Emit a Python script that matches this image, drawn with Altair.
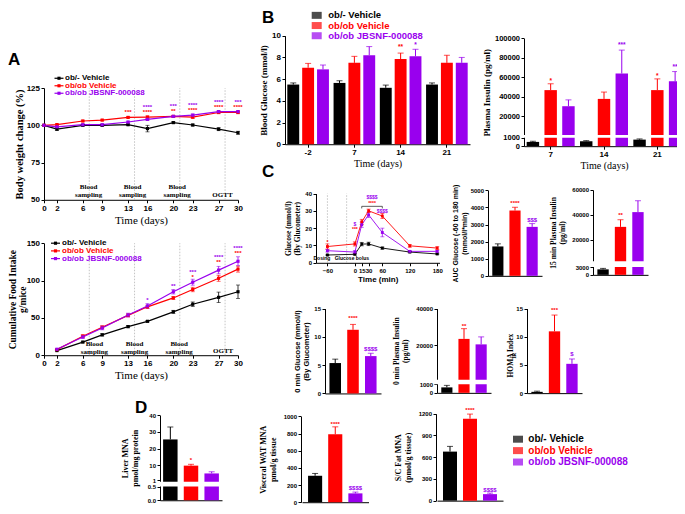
import altair as alt
import pandas as pd

W, H = 669, 498
GROUPS = ["ob/- Vehicle", "ob/ob Vehicle", "ob/ob JBSNF-000088"]
COLORS = ["#000000", "#ff0000", "#9900ee"]
SANS = "Liberation Sans"
SERIF = "Liberation Serif"

# ---------------- data ----------------
# A: body weight change (%)
bw_days = [0, 2, 6, 9, 13, 16, 20, 23, 27, 30]
bw_black = [100, 97.4, 100, 100, 100.4, 97.8, 101.8, 100.2, 97.4, 95]
bw_red = [100, 100.5, 102.9, 103.5, 105.3, 105.5, 106, 105.5, 108.6, 108.6]
bw_purple = [100, 99, 100.4, 100.4, 102.2, 104, 106, 106.8, 109.2, 109.2]
bw_err_black = [0, 0.8, 0.5, 0.5, 0.6, 2.2, 0.6, 0.6, 1.0, 1.0]
bw_err_red = [0, 0.5, 0.5, 0.5, 0.5, 0.8, 0.5, 0.8, 0.8, 0.8]
bw_err_purple = [0, 0.5, 0.5, 0.5, 0.5, 0.8, 0.5, 0.8, 0.8, 0.8]
bw_sig_x = [13, 16, 16, 20, 20, 23, 23, 27, 27, 30, 30]
bw_sig_group = [1, 2, 1, 2, 1, 2, 1, 2, 1, 2, 1]
bw_sig_text = ["***", "****", "****", "***", "**", "****", "****", "****", "****", "***", "****"]
bw_sig_y = [108.7, 112.2, 108.9, 112.7, 109.4, 113.6, 110.3, 115.5, 112.3, 115.5, 112.3]

# A: cumulative food intake (g/mice)
fi_days = [2, 6, 9, 13, 16, 20, 23, 27, 30]
fi_black = [6.2, 17.6, 27.3, 38.3, 45.4, 58.1, 68.3, 77.5, 85]
fi_red = [7.5, 25.5, 37.4, 53.3, 64.8, 76.7, 88, 103, 115.3]
fi_purple = [8, 24.5, 36.5, 53.8, 66, 85, 97.8, 114, 125.8]
fi_err_black = [0.5, 1, 1.5, 1.5, 1, 2, 3, 7, 9]
fi_err_red = [0.5, 2, 2, 2, 2, 2, 3, 4, 4]
fi_err_purple = [0.5, 2, 2.5, 2.5, 3, 3, 4, 5, 6]
fi_sig_x = [16, 20, 23, 23, 27, 27, 30, 30]
fi_sig_group = [2, 2, 2, 1, 2, 1, 2, 1]
fi_sig_text = ["*", "**", "***", "*", "****", "**", "****", "***"]
fi_sig_y = [73.7, 92.5, 111.8, 105.0, 131.5, 124.8, 144.2, 137.5]

event_days = [7, 14, 21, 28]
ann_text = ["Blood\nsampling", "Blood\nsampling", "Blood\nsampling", "OGTT"]
ann_x_top = [6.9, 13.7, 20.6, 27.6]
ann_y_top = [61.0, 61.0, 61.0, 55.8]
ann_x_bottom = [7.8, 14, 20.9, 27.7]
ann_y_bottom = [20.5, 20.5, 20.5, 11.3]

# B: blood glucose (mmol/l)
bg_days = ["-2", "7", "14", "21"]
bg_black = [5.5, 5.65, 5.2, 5.5]
bg_red = [7.05, 7.5, 7.85, 7.5]
bg_purple = [6.9, 8.2, 8.1, 7.5]
bg_hi_black = [5.65, 5.85, 5.45, 5.65]
bg_hi_red = [7.45, 8.1, 8.4, 8.2]
bg_hi_purple = [7.3, 9.0, 8.75, 8.0]
bg_sig_x = ["14", "14"]
bg_sig_group = [1, 2]
bg_sig_text = ["**", "*"]
bg_sig_y = [8.95, 9.15]

# B: plasma insulin (pg/ml)
pi_days = ["7", "14", "21"]
pi_black = [500, 577, 770]
pi_red = [47000, 38000, 47000]
pi_purple = [30500, 64000, 56000]
pi_hi_black = [577, 650, 850]
pi_hi_red = [53500, 45000, 58500]
pi_hi_purple = [37000, 88000, 66000]
pi_sig_x = ["7", "14", "21", "21"]
pi_sig_group = [1, 2, 1, 2]
pi_sig_text = ["*", "***", "*", "**"]
pi_sig_y = [56800, 93300, 61800, 70500]

# C: OGTT glucose (mmol/l)
ogtt_t = [-60, 0, 15, 30, 60, 120, 180]
ogtt_black = [4.5, 4.9, 10.8, 10.9, 8.5, 6.2, 5.1]
ogtt_red = [9.4, 10.9, 23.6, 30, 27, 9.8, 8.5]
ogtt_purple = [7, 6.2, 22, 27.7, 17.5, 6.6, 6.6]
ogtt_err_black = [0.4, 0.4, 1, 1, 0.6, 0.4, 0.4]
ogtt_err_red = [1.5, 1.2, 1.5, 1, 1.5, 0.8, 0.8]
ogtt_err_purple = [0.8, 0.8, 1.5, 1.5, 2.5, 0.5, 0.5]
ogtt_sig_x = [-60, 0, 0, 37.5, 37.5, 60]
ogtt_sig_group = [1, 1, 2, 1, 2, 2]
ogtt_sig_text = ["*", "***", "$", "****", "$$$$", "$$$$"]
ogtt_sig_y = [11.8, 19.4, 22.6, 34.3, 38.0, 29.8]
ogtt_events = [-60, -18]
ogtt_bracket = [15, 60]

# C: bar summaries (black, red, purple)
auc_vals = [1717, 3817, 2862]
auc_hi = [1870, 4007, 3053]
auc_sig = ["", "****", "$$$"]
auc_sig_y = [0, 4236, 3244]

ins15_vals = [2100, 30500, 42300]
ins15_hi = [2475, 36200, 51400]
ins15_sig = ["", "**", ""]
ins15_sig_y = [0, 39600, 0]

glu0_vals = [5.37, 11.25, 6.6]
glu0_hi = [6.06, 12.2, 7.1]
glu0_sig = ["", "****", "$$$$"]
glu0_sig_y = [0, 13.3, 7.8]

ins0_vals = [640, 23400, 20400]
ins0_hi = [880, 29000, 24500]
ins0_sig = ["", "**", ""]
ins0_sig_y = [0, 30200, 0]

homa_vals = [0.23, 10.96, 5.2]
homa_hi = [0.35, 13.85, 6.06]
homa_sig = ["", "***", "$"]
homa_sig_y = [0, 14.7, 6.9]

# D: MNA
liver_vals = [25.5, 9.7, 5.0]
liver_hi = [33, 10.5, 6.0]
liver_sig = ["", "*", ""]
liver_sig_y = [0, 13, 0]

vwat_vals = [308, 791, 103]
vwat_hi = [335, 878, 118]
vwat_sig = ["", "****", "$$$$"]
vwat_sig_y = [0, 913, 160]

sc_vals = [677, 1132, 90]
sc_hi = [749, 1195, 104]
sc_sig = ["", "****", "$$$$"]
sc_sig_y = [0, 1250, 149]


# ---------------- helpers ----------------
def cx(x):
    return x - 8


def cy(y):
    return (y - 5) * 0.98


COLOR = alt.Color("group:N", scale=alt.Scale(domain=GROUPS, range=COLORS), legend=None)


def left_axis(xpage, values, title, lsize, tsize, tfont=SERIF, tpad=3, label_expr=None, tlh=None):
    kw = dict(orient="left", offset=-cx(xpage), values=values, title=title, format="d",
              labelFontSize=lsize, titleFontSize=tsize, titleFont=tfont,
              titleFontWeight="bold", titlePadding=tpad, zindex=0)
    if label_expr:
        kw["labelExpr"] = label_expr
    if tlh:
        kw["titleLineHeight"] = tlh
    return alt.Axis(**kw)


def bottom_axis(ypage, title=None, values=None, lsize=8, tsize=10, tfont=SERIF,
                tweight="normal", labels=True, ticks=True, tpad=2):
    kw = dict(orient="bottom", offset=cy(ypage) - H, title=title, labelFontSize=lsize,
              titleFontSize=tsize, titleFont=tfont, titleFontWeight=tweight, labelAngle=0,
              labels=labels, ticks=ticks, titlePadding=tpad, zindex=0)
    if values is not None:
        kw["values"] = values
    return alt.Axis(**kw)


def long_df(xs, series, errs):
    rows = []
    for g, vals, es in zip(GROUPS, series, errs):
        for x, v, e in zip(xs, vals, es):
            rows.append({"x": x, "group": g, "value": v, "lo": v - e, "hi": v + e})
    return pd.DataFrame(rows)


def sig_df(xs, grp, txt, ys):
    return pd.DataFrame({"x": xs, "group": [GROUPS[i] for i in grp], "text": txt, "y": ys})


def line_panel(xs, series, errs, sx, sy, ax, ay, sig, ann=None, events=None, ev_dom=None,
               lw=1.2, psize=10, sig_size=6):
    df = long_df(xs, series, errs)
    X = lambda f: alt.X(f"{f}:Q", scale=sx, axis=ax)
    Y = lambda f: alt.Y(f"{f}:Q", scale=sy, axis=ay)
    layers = []
    if events is not None:
        ev = pd.DataFrame({"x": events, "y0": [ev_dom[0]] * len(events), "y1": [ev_dom[1]] * len(events)})
        layers.append(alt.Chart(ev).mark_rule(color="#b5b5b5", strokeDash=[1.5, 1.5], strokeWidth=0.8)
                      .encode(x=X("x"), y=Y("y0"), y2=alt.Y2("y1")))
    layers += [
        alt.Chart(df).mark_line(strokeWidth=lw).encode(x=X("x"), y=Y("value"), color=COLOR),
        alt.Chart(df).mark_rule(strokeWidth=0.8).encode(x=X("x"), y=Y("lo"), y2=alt.Y2("hi"), color=COLOR),
        alt.Chart(df).mark_tick(orient="horizontal", size=4, thickness=0.8).encode(x=X("x"), y=Y("hi"), color=COLOR),
        alt.Chart(df).mark_tick(orient="horizontal", size=4, thickness=0.8).encode(x=X("x"), y=Y("lo"), color=COLOR),
        alt.Chart(df).mark_point(filled=True, size=psize, opacity=1, shape="square").encode(x=X("x"), y=Y("value"), color=COLOR),
        alt.Chart(sig).mark_text(font=SANS, fontWeight="bold", fontSize=sig_size, baseline="middle")
        .encode(x=X("x"), y=Y("y"), text="text:N", color=COLOR),
    ]
    if ann is not None:
        layers.append(alt.Chart(ann).mark_text(font=SERIF, fontWeight="bold", fontSize=7, baseline="top",
                                               lineBreak="\n", lineHeight=8, color="black")
                      .encode(x=X("x"), y=Y("y"), text="text:N"))
    return alt.layer(*layers)


def grouped_bars(cats, series, his, sig, xr, yscale, ax, ay, pin=0.1, pout=0.05, opad=0.2,
                 breaks=None, bx=None, sig_size=6.5, cap=6):
    rows = []
    for g, vals, hs in zip(GROUPS, series, his):
        for c, v, h in zip(cats, vals, hs):
            rows.append({"x": c, "group": g, "value": v, "hi": h})
    df = pd.DataFrame(rows)
    sx = alt.Scale(domain=cats, range=xr, paddingInner=pin, paddingOuter=pout)
    X = lambda: alt.X("x:N", sort=cats, scale=sx, axis=ax)
    XO = lambda: alt.XOffset("group:N", sort=GROUPS, scale=alt.Scale(domain=GROUPS, paddingInner=opad))
    Y = lambda f: alt.Y(f"{f}:Q", scale=yscale, axis=ay)
    layers = [
        alt.Chart(df).mark_rule(strokeWidth=1).encode(x=X(), xOffset=XO(), y=Y("value"), y2=alt.Y2("hi"), color=COLOR),
        alt.Chart(df).mark_tick(orient="horizontal", size=cap, thickness=1).encode(x=X(), xOffset=XO(), y=Y("hi"), color=COLOR),
        alt.Chart(df).mark_bar().encode(x=X(), xOffset=XO(), y=Y("value"), color=COLOR),
    ]
    if breaks is not None:
        bdf = pd.DataFrame({"lo": [breaks[0]], "hi": [breaks[1]]})
        layers.append(alt.Chart(bdf).mark_rect(color="white").encode(
            x=alt.value(cx(bx[0])), x2=alt.value(cx(bx[1])), y=Y("lo"), y2=alt.Y2("hi")))
    layers.append(alt.Chart(sig).mark_text(font=SANS, fontWeight="bold", fontSize=sig_size, baseline="middle")
                  .encode(x=X(), xOffset=XO(), y=Y("y"), text="text:N", color=COLOR))
    return alt.layer(*layers)


def simple_bars(vals, his, sig_txt, sig_y, xr, yscale, ay, xaxis_y, pin=0.35, pout=0.25,
                breaks=None, bx=None, sig_size=6, cap=6):
    df = pd.DataFrame({"group": GROUPS, "value": vals, "hi": his})
    sg = pd.DataFrame({"group": GROUPS, "text": sig_txt, "y": sig_y})
    sg = sg[sg["text"] != ""]
    sx = alt.Scale(domain=GROUPS, range=xr, paddingInner=pin, paddingOuter=pout)
    ax = bottom_axis(xaxis_y, title=None, labels=False, ticks=False)
    X = lambda: alt.X("group:N", sort=GROUPS, scale=sx, axis=ax)
    Y = lambda f: alt.Y(f"{f}:Q", scale=yscale, axis=ay)
    layers = [
        alt.Chart(df).mark_rule(strokeWidth=1).encode(x=X(), y=Y("value"), y2=alt.Y2("hi"), color=COLOR),
        alt.Chart(df).mark_tick(orient="horizontal", size=cap, thickness=1).encode(x=X(), y=Y("hi"), color=COLOR),
        alt.Chart(df).mark_bar().encode(x=X(), y=Y("value"), color=COLOR),
    ]
    if breaks is not None:
        bdf = pd.DataFrame({"lo": [breaks[0]], "hi": [breaks[1]]})
        layers.append(alt.Chart(bdf).mark_rect(color="white").encode(
            x=alt.value(cx(bx[0])), x2=alt.value(cx(bx[1])), y=Y("lo"), y2=alt.Y2("hi")))
    layers.append(alt.Chart(sg).mark_text(font=SANS, fontWeight="bold", fontSize=sig_size, baseline="middle")
                  .encode(x=X(), y=Y("y"), text="text:N", color=COLOR))
    return alt.layer(*layers)


def legend(kind, x_sym, x_text, y_first, y_last, size):
    df = pd.DataFrame({"group": GROUPS})
    Y = alt.Y("group:N", sort=GROUPS,
              scale=alt.Scale(type="point", domain=GROUPS, range=[cy(y_first), cy(y_last)], padding=0), axis=None)
    layers = []
    if kind == "line":
        layers.append(alt.Chart(df).mark_rule(strokeWidth=1.2).encode(
            x=alt.value(cx(x_sym - 4.5)), x2=alt.value(cx(x_sym + 4.5)), y=Y, color=COLOR))
        layers.append(alt.Chart(df).mark_point(filled=True, size=10, opacity=1, shape="square").encode(
            x=alt.value(cx(x_sym)), y=Y, color=COLOR))
    else:
        layers.append(alt.Chart(df).mark_tick(orient="horizontal", size=10, thickness=7).encode(
            x=alt.value(cx(x_sym)), y=Y, color=COLOR))
    layers.append(alt.Chart(df).mark_text(align="left", baseline="middle", font=SANS, fontWeight="bold",
                                          fontSize=size).encode(x=alt.value(cx(x_text)), y=Y, text="group:N", color=COLOR))
    return alt.layer(*layers)


def free_text(texts, xs, ys, size, font=SANS, weight="bold", angle=0, align="left", baseline="top"):
    df = pd.DataFrame({"t": texts, "px": [cx(v) for v in xs], "py": [cy(v) for v in ys]})
    return alt.Chart(df).mark_text(font=font, fontWeight=weight, fontSize=size, angle=angle,
                                   align=align, baseline=baseline, color="black").encode(
        x=alt.X("px:Q", scale=None), y=alt.Y("py:Q", scale=None), text="t:N")


children = []

# ---- Panel A top ----
sxA = alt.Scale(domain=[0, 30], range=[cx(44), cx(238)], nice=False, zero=False)
syA1 = alt.Scale(domain=[50, 125], range=[cy(200.7), cy(86.7)], nice=False, zero=False)
axA1 = bottom_axis(200.7, title="Time (days)", values=bw_days, lsize=8, tsize=11)
ayA1 = left_axis(44, [50, 75, 100, 125], "Body weight change (%)", 8, 10.5, tpad=2)
annA1 = pd.DataFrame({"x": ann_x_top, "y": ann_y_top, "text": ann_text})
children.append(line_panel(bw_days, [bw_black, bw_red, bw_purple],
                           [bw_err_black, bw_err_red, bw_err_purple], sxA, syA1, axA1, ayA1,
                           sig_df(bw_sig_x, bw_sig_group, bw_sig_text, bw_sig_y), ann=annA1,
                           events=event_days, ev_dom=[50, 125]))
children.append(legend("line", 59, 65, 76.7, 92, 8))

# ---- Panel A bottom ----
syA2 = alt.Scale(domain=[0, 150], range=[cy(359.3), cy(245)], nice=False, zero=False)
axA2 = bottom_axis(359.3, title="Time (days)", values=bw_days, lsize=8, tsize=11)
ayA2 = left_axis(44, [0, 50, 100, 150], ["Cumulative Food Intake", "g/mice"], 8, 9.5, tpad=-1.5, tlh=10)
annA2 = pd.DataFrame({"x": ann_x_bottom, "y": ann_y_bottom, "text": ann_text})
children.append(line_panel(fi_days, [fi_black, fi_red, fi_purple],
                           [fi_err_black, fi_err_red, fi_err_purple], sxA, syA2, axA2, ayA2,
                           sig_df(fi_sig_x, fi_sig_group, fi_sig_text, fi_sig_y), ann=annA2,
                           events=event_days, ev_dom=[0, 150]))
children.append(legend("line", 55.5, 62, 245, 260.7, 8))

# ---- Panel B left ----
syB1 = alt.Scale(domain=[0, 10], range=[cy(144), cy(33.3)], nice=False)
children.append(grouped_bars(bg_days, [bg_black, bg_red, bg_purple], [bg_hi_black, bg_hi_red, bg_hi_purple],
                             sig_df(bg_sig_x, bg_sig_group, bg_sig_text, bg_sig_y),
                             [cx(285), cx(470)], syB1,
                             bottom_axis(144, title="Time (days)", lsize=8, tsize=10),
                             left_axis(285, [0, 2, 4, 6, 8, 10], "Blood Glucose (mmol/l)", 8, 9)))
children.append(legend("square", 316.7, 328.3, 12.5, 33.3, 9.5))

# ---- Panel B right ----
syB2 = alt.Scale(domain=[0, 1000, 1001, 100000], range=[cy(146), cy(137.3), cy(134.6), cy(36)], nice=False)
children.append(grouped_bars(pi_days, [pi_black, pi_red, pi_purple], [pi_hi_black, pi_hi_red, pi_hi_purple],
                             sig_df(pi_sig_x, pi_sig_group, pi_sig_text, pi_sig_y),
                             [cx(524), cx(684)], syB2,
                             bottom_axis(146, title="Time (days)", lsize=8, tsize=10),
                             left_axis(524, [0, 1000, 20000, 40000, 60000, 80000, 100000],
                                       "Plasma Insulin (pg/ml)", 7.5, 9),
                             breaks=[1000, 1001], bx=[522, 684], opad=0.3))

# ---- Panel C: OGTT ----
sxC = alt.Scale(domain=[-85, 185], range=[cx(316), cx(439.5)], nice=False, zero=False)
syC = alt.Scale(domain=[0, 40], range=[cy(265), cy(194.3)], nice=False, zero=False)
axC = bottom_axis(265, title="Time (min)", values=ogtt_t, lsize=6, tsize=8, tfont=SANS, tweight="bold")
ayC = left_axis(316, [0, 10, 20, 30, 40], ["Glucose (mmol/l)", "(By Glucometer)"], 6, 7.5)
ogtt_layer = line_panel(ogtt_t, [ogtt_black, ogtt_red, ogtt_purple],
                        [ogtt_err_black, ogtt_err_red, ogtt_err_purple], sxC, syC, axC, ayC,
                        sig_df(ogtt_sig_x, ogtt_sig_group, ogtt_sig_text, ogtt_sig_y),
                        events=ogtt_events, ev_dom=[0, 40], lw=0.9, psize=8, sig_size=5)
brk = pd.DataFrame({"x": [ogtt_bracket[0]], "x2": [ogtt_bracket[1]], "y": [32.6]})
brk_ends = pd.DataFrame({"x": ogtt_bracket, "y": [32.6, 32.6], "y2": [31.4, 31.4]})
ogtt_notes = pd.DataFrame({"x": [-72, -6.5], "y": [1.2, 1.2], "t": ["Dosing", "Glucose bolus"]})
XC = lambda f: alt.X(f"{f}:Q", scale=sxC, axis=axC)
YC = lambda f: alt.Y(f"{f}:Q", scale=syC, axis=ayC)
children.append(alt.layer(
    ogtt_layer,
    alt.Chart(brk).mark_rule(color="#333333", strokeWidth=0.8).encode(x=XC("x"), x2=alt.X2("x2"), y=YC("y")),
    alt.Chart(brk_ends).mark_rule(color="#333333", strokeWidth=0.8).encode(x=XC("x"), y=YC("y"), y2=alt.Y2("y2")),
    alt.Chart(ogtt_notes).mark_text(font=SANS, fontWeight="bold", fontSize=5, baseline="bottom", color="black")
    .encode(x=XC("x"), y=YC("y"), text="t:N"),
))

# ---- Panel C: AUC ----
children.append(simple_bars(auc_vals, auc_hi, auc_sig, auc_sig_y, [cx(488), cx(542)],
                            alt.Scale(domain=[0, 5000], range=[cy(278.3), cy(191)], nice=False),
                            left_axis(488, [0, 1000, 2000, 3000, 4000, 5000],
                                      ["AUC Glucose (-60 to 180 min)", "(mmol/l*min)"], 6, 7, tfont=SANS),
                            278.3))

# ---- Panel C: 15 min insulin ----
children.append(simple_bars(ins15_vals, ins15_hi, ins15_sig, ins15_sig_y, [cx(593), cx(648)],
                            alt.Scale(domain=[0, 3000, 3001, 60000],
                                      range=[cy(277.3), cy(269.3), cy(263.4), cy(190.7)], nice=False),
                            left_axis(593, [0, 3000, 20000, 40000, 60000],
                                      ["15 min Plasma Insulin", "(pg/ml)"], 6, 7.5, tpad=5),
                            277.3, breaks=[3000, 3001], bx=[591, 648]))

# ---- Panel C: 0 min glucose ----
children.append(simple_bars(glu0_vals, glu0_hi, glu0_sig, glu0_sig_y, [cx(325), cx(381)],
                            alt.Scale(domain=[0, 15], range=[cy(398.3), cy(311.7)], nice=False),
                            left_axis(325, [0, 5, 10, 15], ["0 min Glucose (mmol/l)", "(By Glucometer)"],
                                      6, 7.5, tfont=SANS),
                            398.3))

# ---- Panel C: 0 min insulin ----
children.append(simple_bars(ins0_vals, ins0_hi, ins0_sig, ins0_sig_y, [cx(437), cx(491)],
                            alt.Scale(domain=[0, 1000, 1001, 40000],
                                      range=[cy(397.7), cy(389), cy(384.4), cy(311.7)], nice=False),
                            left_axis(437, [0, 1000, 20000, 40000], ["0 min Plasma Insulin", "(pg/ml)"], 6, 7.5,
                                      tpad=6),
                            397.7, breaks=[1000, 1001], bx=[435, 491]))

# ---- Panel C: HOMA-IR ----
children.append(simple_bars(homa_vals, homa_hi, homa_sig, homa_sig_y, [cx(527), cx(582)],
                            alt.Scale(domain=[0, 15], range=[cy(398), cy(311.7)], nice=False),
                            left_axis(527, [0, 5, 10, 15], None, 6, 7.5),
                            398))
children.append(free_text(["HOMA"], [511], [382], 7.5, font=SERIF, angle=270, baseline="middle"))
children.append(free_text(["IR"], [513.5], [363], 5.5, font=SERIF, angle=270, baseline="middle"))
children.append(free_text(["Index"], [511], [356], 7.5, font=SERIF, angle=270, baseline="middle"))

# ---- Panel D: liver ----
children.append(simple_bars(liver_vals, liver_hi, liver_sig, liver_sig_y, [cx(160), cx(222)],
                            alt.Scale(domain=[0, 0.5, 1, 40], range=[cy(507.3), cy(493.7), cy(486.7), cy(420.7)],
                                      nice=False),
                            left_axis(160, [0, 0.5, 1, 10, 20, 30, 40], ["Liver MNA", "pmol/mg protein"], 6, 8,
                                      tpad=8,
                                      label_expr="datum.value < 1 ? format(datum.value, '.1f') : format(datum.value, 'd')"),
                            507.3, pin=0.3, pout=0.15, breaks=[0.53, 0.88], bx=[158, 222]))

# ---- Panel D: visceral WAT ----
children.append(simple_bars(vwat_vals, vwat_hi, vwat_sig, vwat_sig_y, [cx(302), cx(368.5)],
                            alt.Scale(domain=[0, 1000], range=[cy(509.3), cy(421.7)], nice=False),
                            left_axis(301, [0, 200, 400, 600, 800, 1000], ["Visceral WAT MNA", "pmol/g tissue"], 6, 8,
                                      tpad=6),
                            509.3, pin=0.3, pout=0.3))

# ---- Panel D: S/C fat ----
children.append(simple_bars(sc_vals, sc_hi, sc_sig, sc_sig_y, [cx(437), cx(503)],
                            alt.Scale(domain=[0, 1200], range=[cy(507.7), cy(419)], nice=False),
                            left_axis(436, [0, 300, 600, 900, 1200], ["S/C Fat MNA", "(pmol/g tissue)"], 6, 8,
                                      tpad=6),
                            507.7, pin=0.3, pout=0.3))
children.append(legend("square", 518, 528.3, 445, 468.3, 10))

# ---- panel letters ----
children.append(free_text(["A", "B", "C", "D"], [8, 262, 262, 135], [50, 7.5, 164, 405], 17))

chart = alt.layer(*children).resolve_scale(
    x="independent", y="independent", color="independent", xOffset="independent"
).resolve_axis(x="independent", y="independent").properties(
    width=W, height=H, autosize=alt.AutoSizeParams(type="none"), padding=0
).configure_view(stroke=None).configure_axis(
    domainColor="black", tickColor="black", labelColor="black", titleColor="black", grid=False,
    labelFont=SANS, labelFontWeight="bold", titleFont=SERIF, titleFontWeight="bold",
    tickSize=3, labelOverlap=False, labelFlush=False, domainWidth=1, tickWidth=1, labelPadding=1.5
)

chart.save("out.html", embed_options={"renderer": "svg", "actions": False})
